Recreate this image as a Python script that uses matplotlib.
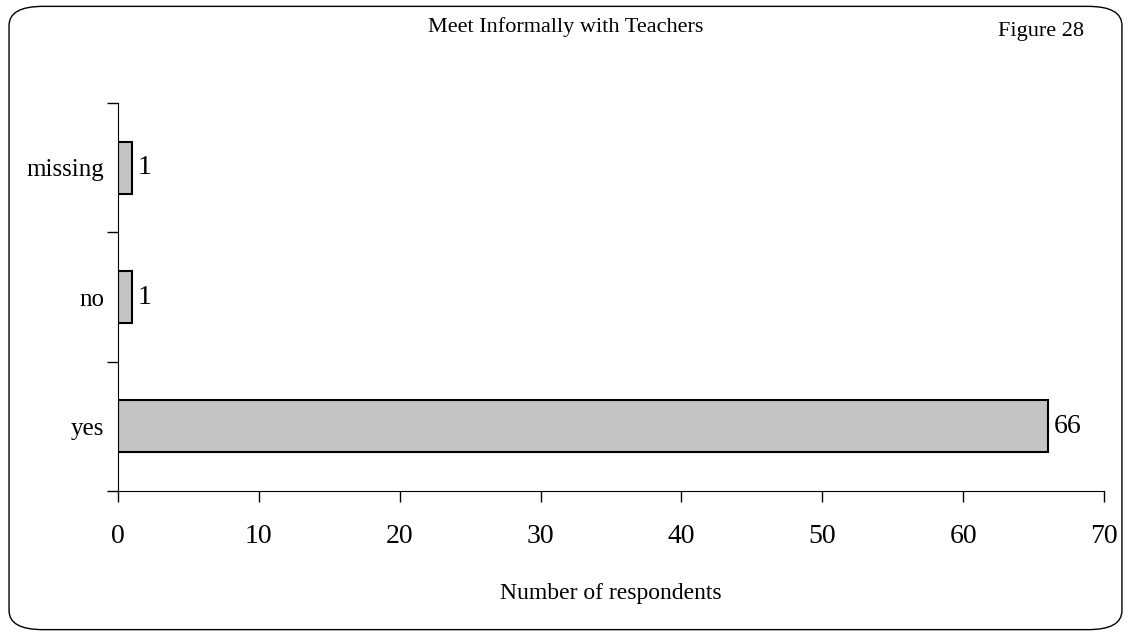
import matplotlib
matplotlib.use("Agg")
import matplotlib.pyplot as plt
from matplotlib.patches import FancyBboxPatch

categories = ["yes", "no", "missing"]
values = [66, 1, 1]
xticks = [0, 10, 20, 30, 40, 50, 60, 70]

plt.rcParams['font.family'] = ['Liberation Serif', 'DejaVu Serif']

fig = plt.figure(figsize=(11.31, 6.36), dpi=100)
ax = fig.add_axes([0.1043, 0.228, 0.8718, 0.610])

ypos = list(range(len(categories)))
ax.barh(ypos, values, height=0.4, color='#c4c4c4', edgecolor='black', linewidth=1.5)
for y, v in zip(ypos, values):
    ax.text(v + 0.4, y, str(v), va='center', ha='left', fontsize=20)

ax.set_xlim(0, 70)
ax.set_ylim(-0.5, len(categories) - 0.5)
ax.set_xticks(xticks)
ax.set_xticklabels([str(t) for t in xticks], fontsize=20)
ax.set_yticks(ypos)
ax.set_yticklabels(categories, fontsize=18)
ax.set_yticks([i - 0.5 for i in range(len(categories) + 1)], minor=True)
ax.tick_params(axis='y', which='major', length=0, pad=10)
ax.tick_params(axis='y', which='minor', length=8, width=1, direction='out')
ax.tick_params(axis='x', which='major', length=8, width=1, direction='out', pad=16)
ax.spines['top'].set_visible(False)
ax.spines['right'].set_visible(False)
ax.set_xlabel("Number of respondents", fontsize=17, labelpad=24)

fig.text(0.5, 0.958, "Meet Informally with Teachers", ha='center', va='center', fontsize=16)
fig.text(0.92, 0.950, "Figure 28", ha='center', va='center', fontsize=16)

border = FancyBboxPatch((0.008, 0.01), 0.984, 0.98, boxstyle="round,pad=0,rounding_size=0.03",
                        transform=fig.transFigure, fill=False, edgecolor='black', linewidth=1.0)
fig.patches.append(border)

fig.savefig("out.png", dpi=100)
